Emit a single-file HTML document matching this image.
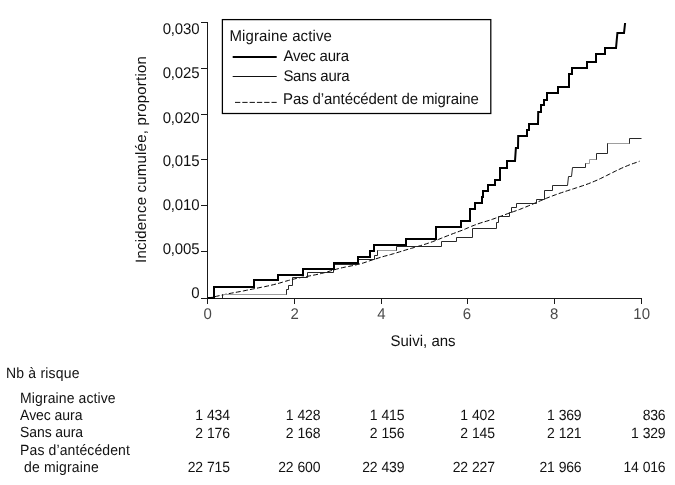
<!DOCTYPE html>
<html lang="fr"><head><meta charset="utf-8"><title>Incidence cumulée</title>
<style>html,body{margin:0;padding:0;background:#fff;}body{width:675px;height:485px;position:relative;overflow:hidden;font-family:"Liberation Sans",sans-serif;}svg{will-change:transform;}</style></head>
<body>
<svg width="675" height="485" viewBox="0 0 675 485" style="position:absolute;left:0;top:0">
<rect width="675" height="485" fill="#fff"/>
<g stroke="#1a1a1a" stroke-width="1" fill="none" shape-rendering="auto">
<path d="M207.5,22 V304"/>
<path d="M201,298.5 H642"/>
<path d="M201,22.5 H207.5"/>
<path d="M201,68.5 H207.5"/>
<path d="M201,114.5 H207.5"/>
<path d="M201,159.5 H207.5"/>
<path d="M201,205.5 H207.5"/>
<path d="M201,251.5 H207.5"/>
<path d="M294.5,298.5 V304"/>
<path d="M381.5,298.5 V304"/>
<path d="M467.5,298.5 V304"/>
<path d="M554.5,298.5 V304"/>
<path d="M641.5,298.5 V304"/>
</g>
<path d="M207.6,298.00 L210.6,297.58 L213.6,297.05 L216.6,296.28 L219.6,295.61 L222.6,294.96 L225.6,294.29 L228.6,293.67 L231.6,293.11 L234.6,292.58 L237.6,292.03 L240.6,291.47 L243.6,290.89 L246.6,290.28 L249.6,289.67 L252.6,289.05 L255.6,288.44 L258.6,287.84 L261.6,287.24 L264.6,286.66 L267.6,286.03 L270.6,285.36 L273.6,284.64 L276.6,283.87 L279.6,283.05 L282.6,282.17 L285.6,281.26 L288.6,280.41 L291.6,279.62 L294.6,278.88 L297.6,278.20 L300.6,277.57 L303.6,277.00 L306.6,276.46 L309.6,275.91 L312.6,275.35 L315.6,274.76 L318.6,274.11 L321.6,273.41 L324.6,272.64 L327.6,271.75 L330.6,270.87 L333.6,269.99 L336.6,269.14 L339.6,268.35 L342.6,267.63 L345.6,266.98 L348.6,266.44 L351.6,265.84 L354.6,265.18 L357.6,264.49 L360.6,263.75 L363.6,262.88 L366.6,261.87 L369.6,260.84 L372.6,259.85 L375.6,258.91 L378.6,257.96 L381.6,257.02 L384.6,256.17 L387.6,255.38 L390.6,254.55 L393.6,253.68 L396.6,252.77 L399.6,251.87 L402.6,250.95 L405.6,250.02 L408.6,249.13 L411.6,248.26 L414.6,247.40 L417.6,246.51 L420.6,245.61 L423.6,244.68 L426.6,243.72 L429.6,242.73 L432.6,241.66 L435.6,240.54 L438.6,239.36 L441.6,238.14 L444.6,236.93 L447.6,235.73 L450.6,234.57 L453.6,233.43 L456.6,232.32 L459.6,231.23 L462.6,230.09 L465.6,228.84 L468.6,227.55 L471.6,226.29 L474.6,225.10 L477.6,223.99 L480.6,222.94 L483.6,222.02 L486.6,221.16 L489.6,220.25 L492.6,219.23 L495.6,218.15 L498.6,217.05 L501.6,215.93 L504.6,214.79 L507.6,213.67 L510.6,212.60 L513.6,211.58 L516.6,210.55 L519.6,209.45 L522.6,208.28 L525.6,207.05 L528.6,205.80 L531.6,204.53 L534.6,203.26 L537.6,201.97 L540.6,200.69 L543.6,199.42 L546.6,198.19 L549.6,196.99 L552.6,195.84 L555.6,194.73 L558.6,193.66 L561.6,192.64 L564.6,191.64 L567.6,190.66 L570.6,189.69 L573.6,188.72 L576.6,187.74 L579.6,186.75 L582.6,185.76 L585.6,184.74 L588.6,183.63 L591.6,182.46 L594.6,181.21 L597.6,179.90 L600.6,178.51 L603.6,177.05 L606.6,175.55 L609.6,174.05 L612.6,172.55 L615.6,171.05 L618.6,169.60 L621.6,168.21 L624.6,166.89 L627.6,165.63 L630.6,164.42 L633.6,163.38 L636.6,162.36 L639.6,161.20" stroke="#000" stroke-width="1" fill="none" stroke-dasharray="5 2.2"/>
<path d="M207.5,298.5 H222.5 V294.5 H286.5 V289.5 H288.5 V285.5 H292.5 V277.5 H307.5 V272.5 H333.5 V264.5 H357.5 V259.5 H374.5 V255.5 H377.5 V250.5 H396.5 V246.5 H441.5 V241.5 H456.5 V237.5 H472.5 V228.5 H496.5 V222.5 H498.5 V216.5 H509.5 V212.5 H511.5 V207.5 H516.5 V203.5 H536.5 V199.5 H544.5 V190.5 H552.5 V185.5 H567.5 L568.5,176.5 H571.5 L572.5,167.5 H585.5 V163.5 H589.5 V159.5 H596.5 V153.5 H607.5 V143.5 H629.5 V138.5 H641.5" stroke="#1c1c1c" stroke-width="0.95" fill="none"/>
<path d="M223,294.5 H286 M378,250.5 H396 M608,143.5 H629 M586,163.5 H589.5 V159.5 H596" stroke="#fff" stroke-opacity="0.55" stroke-width="1.2" fill="none"/>
<path d="M208,298 H214 V287 H254 V280 H278 V275 H303 V269 H334 V263 H358 V257 H370 V251 H374 V245 H406 V239 H436 V227 H461 V221 H470 V209 H475 V203 H482 V197 H483 V191 H488 V185 H495 V180 H500 V168 H507 V161 H515 L515.9,148 H518 L518.2,136 H527 V130 H529 V124 H538 L538.2,112 H541 V105 H544 V100 H547 V93 H558 V87 H569 V74 H572 V68 H587 V62 H596 V54 H605 V48 H616 L617.4,33 H624 L625.1,23" stroke="#000" stroke-width="2" fill="none" stroke-linejoin="miter"/>
<rect x="222.4" y="19.6" width="268.4" height="93.9" fill="#fff" stroke="#000" stroke-width="1.25"/>
<path d="M232.7,57 H276.7" stroke="#000" stroke-width="2"/>
<path d="M232.7,76.5 H276.7" stroke="#111" stroke-width="1"/>
<path d="M235,102.4 H276.7" stroke="#111" stroke-width="1" stroke-dasharray="5.3 2"/>
<g font-family="'Liberation Sans', sans-serif" font-size="15" fill="#111" style="text-rendering:geometricPrecision">
<text x="229.5" y="40.6" transform="matrix(1 0 0 1.035 0 -1.421)" letter-spacing="0.107">Migraine active</text>
<text x="283.4" y="60.6" transform="matrix(1 0 0 1.035 0 -2.121)" letter-spacing="-0.21">Avec aura</text>
<text x="283.4" y="80.6" transform="matrix(1 0 0 1.035 0 -2.821)" letter-spacing="-0.275">Sans aura</text>
<text x="283.0" y="104.3" transform="matrix(1 0 0 1.035 0 -3.65)" letter-spacing="-0.1">Pas d’antécédent de migraine</text>
<text x="162.73" y="34.2" transform="matrix(1 0 0 1.035 0 -1.197)" letter-spacing="-0.19">0,030</text>
<text x="162.73" y="78.3" transform="matrix(1 0 0 1.035 0 -2.74)" letter-spacing="-0.19">0,025</text>
<text x="162.73" y="122.8" transform="matrix(1 0 0 1.035 0 -4.298)" letter-spacing="-0.19">0,020</text>
<text x="162.73" y="165.5" transform="matrix(1 0 0 1.035 0 -5.792)" letter-spacing="-0.19">0,015</text>
<text x="162.73" y="209.8" transform="matrix(1 0 0 1.035 0 -7.343)" letter-spacing="-0.19">0,010</text>
<text x="162.73" y="253.7" transform="matrix(1 0 0 1.035 0 -8.879)" letter-spacing="-0.19">0,005</text>
<text x="191.16" y="297.7" transform="matrix(1 0 0 1.035 0 -10.419)">0</text>
<text x="207.6" y="318.8" transform="matrix(1 0 0 1.035 0 -11.158)" text-anchor="middle" fill="#4a4a4a">0</text>
<text x="294.6" y="318.8" transform="matrix(1 0 0 1.035 0 -11.158)" text-anchor="middle" fill="#4a4a4a">2</text>
<text x="381.5" y="318.8" transform="matrix(1 0 0 1.035 0 -11.158)" text-anchor="middle" fill="#4a4a4a">4</text>
<text x="467" y="318.8" transform="matrix(1 0 0 1.035 0 -11.158)" text-anchor="middle" fill="#4a4a4a">6</text>
<text x="554.1" y="318.8" transform="matrix(1 0 0 1.035 0 -11.158)" text-anchor="middle" fill="#4a4a4a">8</text>
<text x="641.7" y="318.8" transform="matrix(1 0 0 1.035 0 -11.158)" text-anchor="middle" fill="#4a4a4a">10</text>
<text x="390.4" y="346.4" transform="matrix(1 0 0 1.035 0 -12.124)" letter-spacing="0.02">Suivi, ans</text>
<text transform="translate(146.3,262.9) rotate(-90)" letter-spacing="0.207">Incidence cumulée, proportion</text>
</g>
<g font-family="'Liberation Sans', sans-serif" font-size="14" fill="#111" style="text-rendering:geometricPrecision">
<text x="6.0" y="377.8" transform="matrix(1 0 0 1.06 0 -22.668)" letter-spacing="0.19">Nb à risque</text>
<text x="20.1" y="402.6" transform="matrix(1 0 0 1.06 0 -24.156)" letter-spacing="0.093">Migraine active</text>
<text x="20.1" y="420.1" transform="matrix(1 0 0 1.06 0 -25.206)" letter-spacing="-0.05">Avec aura</text>
<text x="20.1" y="437.3" transform="matrix(1 0 0 1.06 0 -26.238)" letter-spacing="-0.11">Sans aura</text>
<text x="20.1" y="455.1" transform="matrix(1 0 0 1.06 0 -27.306)" letter-spacing="0.107">Pas d’antécédent</text>
<text x="24.1" y="472.5" transform="matrix(1 0 0 1.06 0 -28.35)" letter-spacing="0.15">de migraine</text>
<text x="229.7" y="420" transform="matrix(1 0 0 1.06 0 -25.2)" letter-spacing="-0.25" text-anchor="end" word-spacing="0.6">1 434</text>
<text x="320.2" y="420" transform="matrix(1 0 0 1.06 0 -25.2)" letter-spacing="-0.25" text-anchor="end" word-spacing="0.6">1 428</text>
<text x="404.2" y="420" transform="matrix(1 0 0 1.06 0 -25.2)" letter-spacing="-0.25" text-anchor="end" word-spacing="0.6">1 415</text>
<text x="494.7" y="420" transform="matrix(1 0 0 1.06 0 -25.2)" letter-spacing="-0.25" text-anchor="end" word-spacing="0.6">1 402</text>
<text x="581.4" y="420" transform="matrix(1 0 0 1.06 0 -25.2)" letter-spacing="-0.25" text-anchor="end" word-spacing="0.6">1 369</text>
<text x="665.4" y="420" transform="matrix(1 0 0 1.06 0 -25.2)" letter-spacing="-0.25" text-anchor="end" word-spacing="0.6">836</text>
<text x="229.7" y="437.8" transform="matrix(1 0 0 1.06 0 -26.268)" letter-spacing="-0.25" text-anchor="end" word-spacing="0.6">2 176</text>
<text x="320.2" y="437.8" transform="matrix(1 0 0 1.06 0 -26.268)" letter-spacing="-0.25" text-anchor="end" word-spacing="0.6">2 168</text>
<text x="404.2" y="437.8" transform="matrix(1 0 0 1.06 0 -26.268)" letter-spacing="-0.25" text-anchor="end" word-spacing="0.6">2 156</text>
<text x="494.7" y="437.8" transform="matrix(1 0 0 1.06 0 -26.268)" letter-spacing="-0.25" text-anchor="end" word-spacing="0.6">2 145</text>
<text x="581.4" y="437.8" transform="matrix(1 0 0 1.06 0 -26.268)" letter-spacing="-0.25" text-anchor="end" word-spacing="0.6">2 121</text>
<text x="665.4" y="437.8" transform="matrix(1 0 0 1.06 0 -26.268)" letter-spacing="-0.25" text-anchor="end" word-spacing="0.6">1 329</text>
<text x="229.7" y="472" transform="matrix(1 0 0 1.06 0 -28.32)" letter-spacing="-0.25" text-anchor="end" word-spacing="0.6">22 715</text>
<text x="320.2" y="472" transform="matrix(1 0 0 1.06 0 -28.32)" letter-spacing="-0.25" text-anchor="end" word-spacing="0.6">22 600</text>
<text x="404.2" y="472" transform="matrix(1 0 0 1.06 0 -28.32)" letter-spacing="-0.25" text-anchor="end" word-spacing="0.6">22 439</text>
<text x="494.7" y="472" transform="matrix(1 0 0 1.06 0 -28.32)" letter-spacing="-0.25" text-anchor="end" word-spacing="0.6">22 227</text>
<text x="581.4" y="472" transform="matrix(1 0 0 1.06 0 -28.32)" letter-spacing="-0.25" text-anchor="end" word-spacing="0.6">21 966</text>
<text x="665.4" y="472" transform="matrix(1 0 0 1.06 0 -28.32)" letter-spacing="-0.25" text-anchor="end" word-spacing="0.6">14 016</text>
</g>
</svg>
</body></html>
